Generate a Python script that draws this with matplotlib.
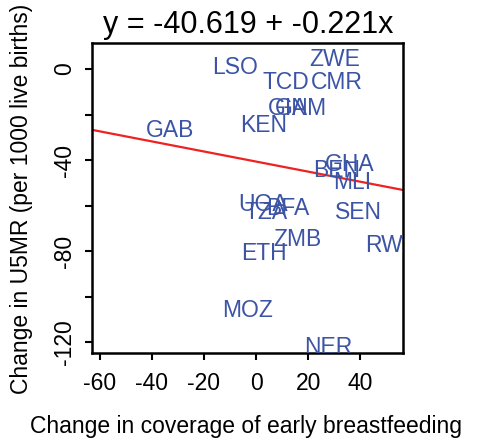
import matplotlib
matplotlib.use("Agg")
import matplotlib.pyplot as plt
import numpy as np

plt.rcParams["font.family"] = ["Liberation Sans", "DejaVu Sans"]

# country codes with (change in breastfeeding coverage, change in U5MR)
countries = ["LSO", "ZWE", "TCD", "CMR", "GIN", "GAM", "KEN", "GAB", "GHA", "BEN",
             "MLI", "UGA", "TZA", "BFA", "SEN", "ZMB", "ETH", "RWA", "MOZ", "NER"]
x_change = [-7.9, 30.3, 11.3, 31.0, 12.4, 17.4, 2.9, -33.0, 36.1, 31.0,
            37.0, 2.7, 3.9, 12.1, 39.3, 15.9, 2.9, 51.7, -3.2, 27.7]
y_change = [1.8, 5.1, -4.8, -4.8, -16.2, -16.2, -23.5, -25.7, -40.9, -43.6,
            -48.7, -58.2, -61.8, -60.0, -61.8, -73.8, -79.7, -76.5, -105.0, -121.0]

intercept = -40.619
slope = -0.221

x_ticks = [-60, -40, -20, 0, 20, 40]
y_ticks = [0, -20, -40, -60, -80, -100, -120]
y_ticklabels = ["0", "", "-40", "", "-80", "", "-120"]

fig = plt.figure(figsize=(4.78, 4.42), dpi=100)
ax = fig.add_axes([0.1935, 0.2014, 0.6502, 0.7013])

xlim = (-62.8, 56.5)
ax.set_xlim(xlim)
ax.set_ylim(-124.6, 11.4)

for name, xv, yv in zip(countries, x_change, y_change):
    ax.text(xv, yv, name, color="#3c54a5", fontsize=16.5, ha="center",
            va="center_baseline", clip_on=True)

xs = np.array(xlim)
ax.plot(xs, intercept + slope * xs, color="#ee2222", lw=1.6)

ax.set_xticks(x_ticks)
ax.set_xticklabels([str(v) for v in x_ticks])
ax.set_yticks(y_ticks)
ax.set_yticklabels(y_ticklabels, rotation=90, va="center")
ax.tick_params(direction="out", length=5, width=1.5, labelsize=16.5)
ax.tick_params(axis="x", pad=8.5)
ax.tick_params(axis="y", pad=7)
for s in ax.spines.values():
    s.set_linewidth(1.8)

fig.text(0.515, 1 - 433 / 442, "Change in coverage of early breastfeeding",
         fontsize=16.5, ha="center", va="baseline")
fig.text(0.046, 0.55, "Change in U5MR (per 1000 live births)", fontsize=16.5,
         rotation=90, ha="center", va="center")

fig.text(0.52, 1 - 33 / 442, "y = -40.619 + -0.221x", fontsize=22, ha="center", va="baseline")

fig.savefig("out.png", dpi=100)
